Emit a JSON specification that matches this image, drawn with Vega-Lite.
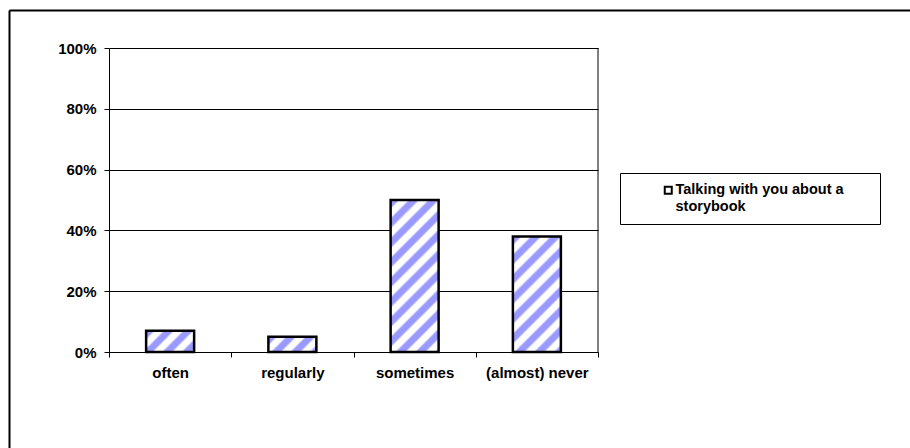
{
  "$schema": "https://vega.github.io/schema/vega-lite/v6.json",
  "width": 901,
  "height": 438,
  "autosize": {"type": "none"},
  "padding": {"left": 9, "top": 10, "right": 0, "bottom": 0},
  "background": "white",
  "config": {
    "view": {"stroke": null},
    "font": "Liberation Sans",
    "axis": {
      "labelFont": "Liberation Sans",
      "labelFontWeight": "bold",
      "labelFontSize": 15,
      "labelColor": "black",
      "tickColor": "black",
      "domainColor": "black",
      "gridColor": "black",
      "gridOpacity": 1,
      "tickSize": 5,
      "labelPadding": 8
    },
    "style": {"guide-label": {"lineHeight": 17}}
  },
  "resolve": {"scale": {"x": "independent", "y": "independent"}, "axis": {"x": "independent", "y": "independent"}},
  "layer": [
    {
      "data": {
        "values": [
          {"cat": "often", "v": 0.07},
          {"cat": "regularly", "v": 0.05},
          {"cat": "sometimes", "v": 0.50},
          {"cat": "(almost) never", "v": 0.38}
        ]
      },
      "encoding": {
        "x": {
          "field": "cat",
          "type": "nominal",
          "sort": null,
          "scale": {"range": [100, 589], "paddingInner": 0, "paddingOuter": 0},
          "axis": {"title": null, "orient": "bottom", "offset": -96, "labelAngle": 0, "tickBand": "extent", "grid": false}
        },
        "y": {
          "field": "v",
          "type": "quantitative",
          "scale": {"domain": [0, 1], "range": [342, 38], "nice": false, "zero": true},
          "axis": {"title": null, "orient": "left", "offset": -100, "values": [0, 0.2, 0.4, 0.6, 0.8, 1], "format": ".0%", "grid": true}
        }
      },
      "layer": [
        {
          "transform": [{"filter": "datum.cat === 'often'"}],
          "mark": {
            "type": "bar",
            "width": 48,
            "stroke": "black",
            "strokeWidth": 2.5,
            "fill": {
              "gradient": "linear", "x1": 0, "y1": 0, "x2": 1.2063, "y2": 0.5348,
              "stops": [
                {"offset": 0, "color": "#9999ff"}, {"offset": 0.0982, "color": "#9999ff"}, {"offset": 0.1403, "color": "#ffffff"}, {"offset": 0.2385, "color": "#ffffff"},
                {"offset": 0.2806, "color": "#9999ff"}, {"offset": 0.3788, "color": "#9999ff"}, {"offset": 0.4209, "color": "#ffffff"}, {"offset": 0.5191, "color": "#ffffff"},
                {"offset": 0.5612, "color": "#9999ff"}, {"offset": 0.6594, "color": "#9999ff"}, {"offset": 0.7015, "color": "#ffffff"}, {"offset": 0.7997, "color": "#ffffff"},
                {"offset": 0.8418, "color": "#9999ff"}, {"offset": 0.9400, "color": "#9999ff"}, {"offset": 0.9821, "color": "#ffffff"}, {"offset": 1, "color": "#ffffff"}
              ]
            }
          }
        },
        {
          "transform": [{"filter": "datum.cat === 'regularly'"}],
          "mark": {
            "type": "bar",
            "width": 48,
            "stroke": "black",
            "strokeWidth": 2.5,
            "fill": {
              "gradient": "linear", "x1": 0, "y1": 0, "x2": 1.1967, "y2": 0.3790,
              "stops": [
                {"offset": 0, "color": "#9999ff"}, {"offset": 0.1073, "color": "#9999ff"}, {"offset": 0.1534, "color": "#ffffff"}, {"offset": 0.2607, "color": "#ffffff"},
                {"offset": 0.3067, "color": "#9999ff"}, {"offset": 0.4140, "color": "#9999ff"}, {"offset": 0.4601, "color": "#ffffff"}, {"offset": 0.5674, "color": "#ffffff"},
                {"offset": 0.6134, "color": "#9999ff"}, {"offset": 0.7207, "color": "#9999ff"}, {"offset": 0.7668, "color": "#ffffff"}, {"offset": 0.8741, "color": "#ffffff"},
                {"offset": 0.9201, "color": "#9999ff"}, {"offset": 1, "color": "#9999ff"}
              ]
            }
          }
        },
        {
          "transform": [{"filter": "datum.cat === 'sometimes'"}],
          "mark": {
            "type": "bar",
            "width": 48,
            "stroke": "black",
            "strokeWidth": 2.5,
            "fill": {
              "gradient": "linear", "x1": 0, "y1": 0, "x2": 0.37783, "y2": 1.1965,
              "stops": [
                {"offset": 0, "color": "#9999ff"}, {"offset": 0.0347, "color": "#9999ff"}, {"offset": 0.0495, "color": "#ffffff"}, {"offset": 0.0842, "color": "#ffffff"},
                {"offset": 0.0990, "color": "#9999ff"}, {"offset": 0.1337, "color": "#9999ff"}, {"offset": 0.1485, "color": "#ffffff"}, {"offset": 0.1832, "color": "#ffffff"},
                {"offset": 0.1980, "color": "#9999ff"}, {"offset": 0.2327, "color": "#9999ff"}, {"offset": 0.2475, "color": "#ffffff"}, {"offset": 0.2822, "color": "#ffffff"},
                {"offset": 0.2970, "color": "#9999ff"}, {"offset": 0.3317, "color": "#9999ff"}, {"offset": 0.3465, "color": "#ffffff"}, {"offset": 0.3812, "color": "#ffffff"},
                {"offset": 0.3960, "color": "#9999ff"}, {"offset": 0.4307, "color": "#9999ff"}, {"offset": 0.4455, "color": "#ffffff"}, {"offset": 0.4802, "color": "#ffffff"},
                {"offset": 0.4950, "color": "#9999ff"}, {"offset": 0.5297, "color": "#9999ff"}, {"offset": 0.5445, "color": "#ffffff"}, {"offset": 0.5792, "color": "#ffffff"},
                {"offset": 0.5940, "color": "#9999ff"}, {"offset": 0.6287, "color": "#9999ff"}, {"offset": 0.6435, "color": "#ffffff"}, {"offset": 0.6782, "color": "#ffffff"},
                {"offset": 0.6930, "color": "#9999ff"}, {"offset": 0.7277, "color": "#9999ff"}, {"offset": 0.7425, "color": "#ffffff"}, {"offset": 0.7772, "color": "#ffffff"},
                {"offset": 0.7920, "color": "#9999ff"}, {"offset": 0.8267, "color": "#9999ff"}, {"offset": 0.8415, "color": "#ffffff"}, {"offset": 0.8762, "color": "#ffffff"},
                {"offset": 0.8910, "color": "#9999ff"}, {"offset": 0.9257, "color": "#9999ff"}, {"offset": 0.9405, "color": "#ffffff"}, {"offset": 0.9752, "color": "#ffffff"},
                {"offset": 0.9900, "color": "#9999ff"}, {"offset": 1, "color": "#9999ff"}
              ]
            }
          }
        },
        {
          "transform": [{"filter": "datum.cat === '(almost) never'"}],
          "mark": {
            "type": "bar",
            "width": 48,
            "stroke": "black",
            "strokeWidth": 2.5,
            "fill": {
              "gradient": "linear", "x1": 0, "y1": 0, "x2": 0.50157, "y2": 1.2071,
              "stops": [
                {"offset": 0, "color": "#9999ff"}, {"offset": 0.0423, "color": "#9999ff"}, {"offset": 0.0604, "color": "#ffffff"}, {"offset": 0.1027, "color": "#ffffff"},
                {"offset": 0.1208, "color": "#9999ff"}, {"offset": 0.1631, "color": "#9999ff"}, {"offset": 0.1812, "color": "#ffffff"}, {"offset": 0.2235, "color": "#ffffff"},
                {"offset": 0.2417, "color": "#9999ff"}, {"offset": 0.2840, "color": "#9999ff"}, {"offset": 0.3021, "color": "#ffffff"}, {"offset": 0.3444, "color": "#ffffff"},
                {"offset": 0.3625, "color": "#9999ff"}, {"offset": 0.4048, "color": "#9999ff"}, {"offset": 0.4229, "color": "#ffffff"}, {"offset": 0.4652, "color": "#ffffff"},
                {"offset": 0.4833, "color": "#9999ff"}, {"offset": 0.5256, "color": "#9999ff"}, {"offset": 0.5437, "color": "#ffffff"}, {"offset": 0.5860, "color": "#ffffff"},
                {"offset": 0.6042, "color": "#9999ff"}, {"offset": 0.6465, "color": "#9999ff"}, {"offset": 0.6646, "color": "#ffffff"}, {"offset": 0.7069, "color": "#ffffff"},
                {"offset": 0.7250, "color": "#9999ff"}, {"offset": 0.7673, "color": "#9999ff"}, {"offset": 0.7854, "color": "#ffffff"}, {"offset": 0.8277, "color": "#ffffff"},
                {"offset": 0.8458, "color": "#9999ff"}, {"offset": 0.8881, "color": "#9999ff"}, {"offset": 0.9062, "color": "#ffffff"}, {"offset": 0.9485, "color": "#ffffff"},
                {"offset": 0.9667, "color": "#9999ff"}, {"offset": 1, "color": "#9999ff"}
              ]
            }
          }
        },
        {
          "transform": [{"filter": "false"}],
          "mark": {"type": "bar", "width": 48, "fill": "white", "strokeWidth": 2},
          "encoding": {
            "stroke": {
              "datum": "Talking with you about a storybook",
              "type": "nominal",
              "scale": {"range": ["black"]},
              "legend": {
                "title": null,
                "orient": "none",
                "legendX": 611,
                "legendY": 163,
                "fillColor": "white",
                "strokeColor": "black",
                "padding": 10,
                "symbolType": "square",
                "symbolSize": 49,
                "symbolStrokeWidth": 2,
                "symbolFillColor": "white",
                "symbolStrokeColor": "black",
                "symbolOffset": 31,
                "labelOffset": 0,
                "labelFont": "Liberation Sans",
                "labelFontWeight": "bold",
                "labelFontSize": 14.5,
                "labelColor": "black",
                "labelLimit": 400,
                "labelBaseline": "middle",
                "labelExpr": "['Talking with you about a\u00a0\u2800\u2800', 'storybook']"
              }
            }
          }
        },
        {
          "data": {"values": [{"edge": "(almost) never", "lo": 0, "hi": 1}]},
          "mark": {"type": "rule", "color": "black", "strokeWidth": 1},
          "encoding": {
            "x": {"field": "edge", "type": "nominal", "bandPosition": 1},
            "y": {"field": "lo", "type": "quantitative"},
            "y2": {"field": "hi"}
          }
        }
      ]
    },
    {
      "data": {"values": [{"fx": 0, "fy": 0}]},
      "mark": {"type": "point", "opacity": 0},
      "encoding": {
        "x": {
          "field": "fx",
          "type": "quantitative",
          "scale": {"domain": [0, 1], "range": [0, 2000]},
          "axis": {"orient": "top", "offset": 0, "title": null, "ticks": false, "labels": false, "grid": false, "domainWidth": 2, "domainColor": "black"}
        },
        "y": {
          "field": "fy",
          "type": "quantitative",
          "scale": {"domain": [0, 1], "range": [0, 2000]},
          "axis": {"orient": "left", "offset": 0, "title": null, "ticks": false, "labels": false, "grid": false, "domainWidth": 2, "domainColor": "black"}
        }
      }
    }
  ]
}
